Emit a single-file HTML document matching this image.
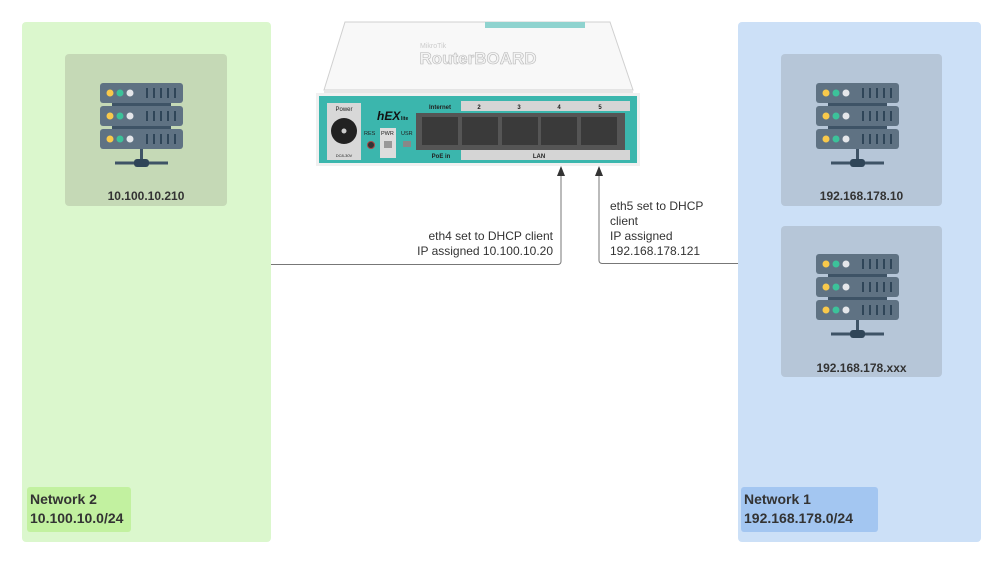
<!DOCTYPE html>
<html><head><meta charset="utf-8"><style>
body{margin:0;width:1000px;height:565px;background:#fff;position:relative;overflow:hidden;font-family:"Liberation Sans",sans-serif}
.a{position:absolute}
.box{position:absolute;border-radius:4px}
.lbl{position:absolute;font-weight:bold;font-size:12px;color:#333;text-align:center}
.net{position:absolute;border-radius:3px;font-weight:bold;font-size:14px;color:#333;line-height:19px;padding:3px 0 0 3px;box-sizing:border-box}
.t{position:absolute;font-size:12px;color:#333;line-height:15px}
</style></head><body>
<div class="box" style="left:22px;top:22px;width:249px;height:520px;background:#dbf7cd"></div>
<div class="box" style="left:738px;top:22px;width:243px;height:520px;background:#cce0f7"></div>
<div class="box" style="left:65px;top:54px;width:162px;height:152px;background:#c5d9b6"></div>
<div class="box" style="left:781px;top:54px;width:161px;height:152px;background:#b6c6d8"></div>
<div class="box" style="left:781px;top:226px;width:161px;height:151px;background:#b6c6d8"></div>
<div class="lbl" style="left:65px;top:189px;width:162px">10.100.10.210</div>
<div class="lbl" style="left:781px;top:189px;width:161px">192.168.178.10</div>
<div class="lbl" style="left:781px;top:361px;width:161px">192.168.178.xxx</div>
<div class="net" style="left:27px;top:487px;width:104px;height:45px;background:#c2f1a0">Network 2<br>10.100.10.0/24</div>
<div class="net" style="left:741px;top:487px;width:137px;height:45px;background:#a3c6f1">Network 1<br>192.168.178.0/24</div>
<div class="t" style="left:380px;top:229px;width:173px;text-align:right">eth4 set to DHCP client<br>IP assigned 10.100.10.20</div>
<div class="t" style="left:610px;top:199px;width:120px">eth5 set to DHCP<br>client<br>IP assigned<br>192.168.178.121</div>
<svg class="a" style="left:0;top:0" width="1000" height="565">
<defs>
<g id="srv">
<rect x="12" y="18" width="59" height="8" fill="#3e5366"/>
<rect x="12" y="41" width="59" height="8" fill="#3e5366"/>
<g id="rk"><rect x="0" y="0" width="83" height="20" rx="3" fill="#5f7283"/>
<circle cx="10" cy="10" r="3.5" fill="#f9c94b"/><circle cx="20" cy="10" r="3.5" fill="#3cc29a"/><circle cx="30" cy="10" r="3.5" fill="#e4e6ea"/>
<path d="M47 5v10M54 5v10M61 5v10M68 5v10M75 5v10" stroke="#2f4558" stroke-width="2"/></g>
<use href="#rk" y="23"/><use href="#rk" y="46"/>
<path d="M41.5 66v14M15 80h53" stroke="#3e5366" stroke-width="3"/>
<rect x="34" y="76" width="15" height="8" rx="3" fill="#2f4558"/>
</g>
</defs>
<use href="#srv" x="100" y="83"/>
<use href="#srv" x="816" y="83"/>
<use href="#srv" x="816" y="254"/>
<path d="M271 264.5H558a3 3 0 0 0 3-3V172" fill="none" stroke="#777" stroke-width="1"/>
<path d="M738 263.5H602a3 3 0 0 1-3-3V172" fill="none" stroke="#777" stroke-width="1"/>
<path d="M557 176l4-10 4 10z" fill="#333"/><path d="M595 176l4-10 4 10z" fill="#333"/>
<!-- router -->
<path d="M345 22H610L633 90H324Z" fill="#f8f8f8" stroke="#d0d0d0"/>
<path d="M324 90H633V93H324Z" fill="#e6e6e6"/>
<rect x="485" y="22" width="100" height="6" fill="#8fd3cf"/>
<text x="478" y="64" font-size="17" font-weight="bold" fill="#f3f3f3" stroke="#b8b8b8" stroke-width="0.6" text-anchor="middle" font-family="Liberation Sans">RouterBOARD</text>
<text x="420" y="48" font-size="7" fill="#ccc" font-family="Liberation Sans">MikroTik</text>
<rect x="316" y="93" width="324" height="73" fill="#f0f0f0"/>
<rect x="319" y="96" width="318" height="67" fill="#3bb6ad"/>
<rect x="327" y="103" width="34" height="57" fill="#d8d8d8"/>
<circle cx="344" cy="131" r="13" fill="#222"/><circle cx="344" cy="131" r="2.5" fill="#ccc"/>
<text x="344" y="111" font-size="6" text-anchor="middle" fill="#222">Power</text>
<text x="344" y="157" font-size="4" text-anchor="middle" fill="#222">DC8-30V</text>
<text x="377" y="120" font-size="12" font-weight="bold" font-style="italic" fill="#111">hEX</text><text x="401" y="120" font-size="5" font-weight="bold" fill="#111">lite</text>
<text x="364" y="135" font-size="5.5" fill="#222">RES</text>
<circle cx="371" cy="145" r="3.5" fill="#333" stroke="#a44"/>
<rect x="380" y="128" width="16" height="30" fill="#ddd"/>
<text x="381" y="135" font-size="5.5" fill="#222">PWR</text>
<rect x="384" y="141" width="8" height="7" fill="#999"/>
<text x="401" y="135" font-size="5.5" fill="#222">USR</text>
<rect x="403" y="141" width="8" height="6" fill="#888"/>
<rect x="461" y="101" width="169" height="10" fill="#d5d5d5"/>
<rect x="461" y="150" width="169" height="10" fill="#d5d5d5"/>
<rect x="416" y="113" width="209" height="37" fill="#555"/>
<g fill="#3a3a3a"><rect x="422" y="117" width="36" height="28"/><rect x="462" y="117" width="36" height="28"/><rect x="502" y="117" width="36" height="28"/><rect x="541" y="117" width="36" height="28"/><rect x="581" y="117" width="36" height="28"/></g>
<g font-size="6" font-weight="bold" fill="#222" text-anchor="middle"><text x="440" y="109">Internet</text><text x="479" y="109">2</text><text x="519" y="109">3</text><text x="559" y="109">4</text><text x="600" y="109">5</text><text x="441" y="158">PoE in</text><text x="539" y="158">LAN</text></g>
</svg>
</body></html>
